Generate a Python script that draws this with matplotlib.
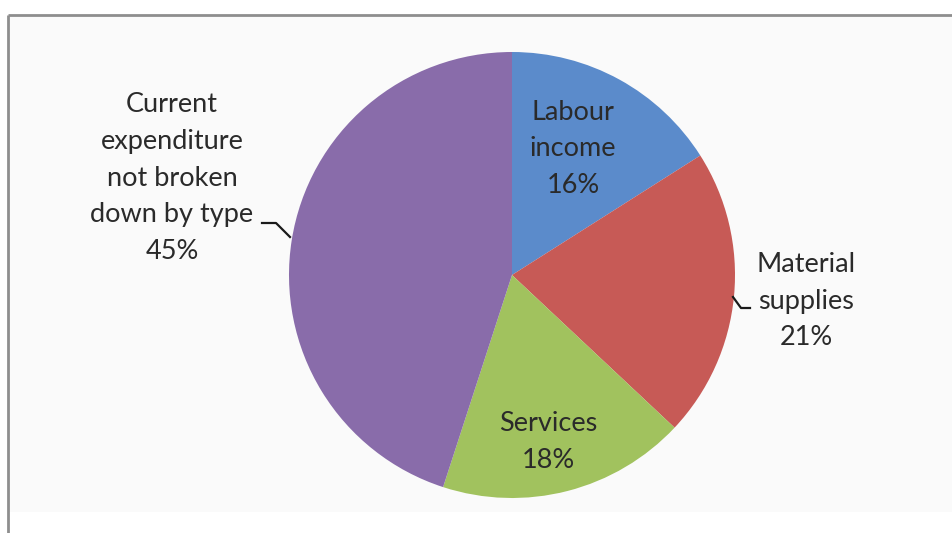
import matplotlib.pyplot as plt
from matplotlib.patches import Rectangle

# spending shares, clockwise from 12 o'clock
labels = ['Labour\nincome', 'Material\nsupplies', 'Services',
          'Current\nexpenditure\nnot broken\ndown by type']
shares = [16, 21, 18, 45]
colors = ['#5b8bcb', '#c75a56', '#a1c25e', '#896caa']

W, H = 953, 533
fig = plt.figure(figsize=(W / 100, H / 100), dpi=100)
ax = fig.add_axes([0, 0, 1, 1])

# plot area panel with grey frame on top and left
ax.add_patch(Rectangle((8, 15), W, 497, facecolor='#fafafa', edgecolor='none', zorder=0))
ax.plot([8, W], [15, 15], color='#8e8e8e', lw=2, solid_capstyle='butt', zorder=1)
ax.plot([8, 8], [15, H], color='#8e8e8e', lw=2, solid_capstyle='butt', zorder=1)

cx, cy, r = 512, 275, 223
# y axis is flipped, so counterclock=True draws clockwise on screen
ax.pie(shares, colors=colors, startangle=-90, counterclock=True,
       center=(cx, cy), radius=r, frame=True,
       wedgeprops=dict(linewidth=0))
ax.set_xlim(0, W)
ax.set_ylim(H, 0)
ax.set_aspect('equal')
ax.axis('off')

font = dict(family=['Lato', 'DejaVu Sans'], fontsize=19.5, color='#2a2a2a',
            ha='center', va='center', linespacing=1.58)
pos = [(573, 149), (806, 301), (548, 442), (172, 178)]
for (x, y), lab, s in zip(pos, labels, shares):
    ax.text(x, y, f'{lab}\n{s}%', **font)

# leader lines
ax.plot([733, 741, 750], [297, 308, 308], color='#1a1a1a', lw=1.6)
ax.plot([262, 276, 290], [223, 223, 237], color='#1a1a1a', lw=1.6)

fig.savefig('out.png', dpi=100)
